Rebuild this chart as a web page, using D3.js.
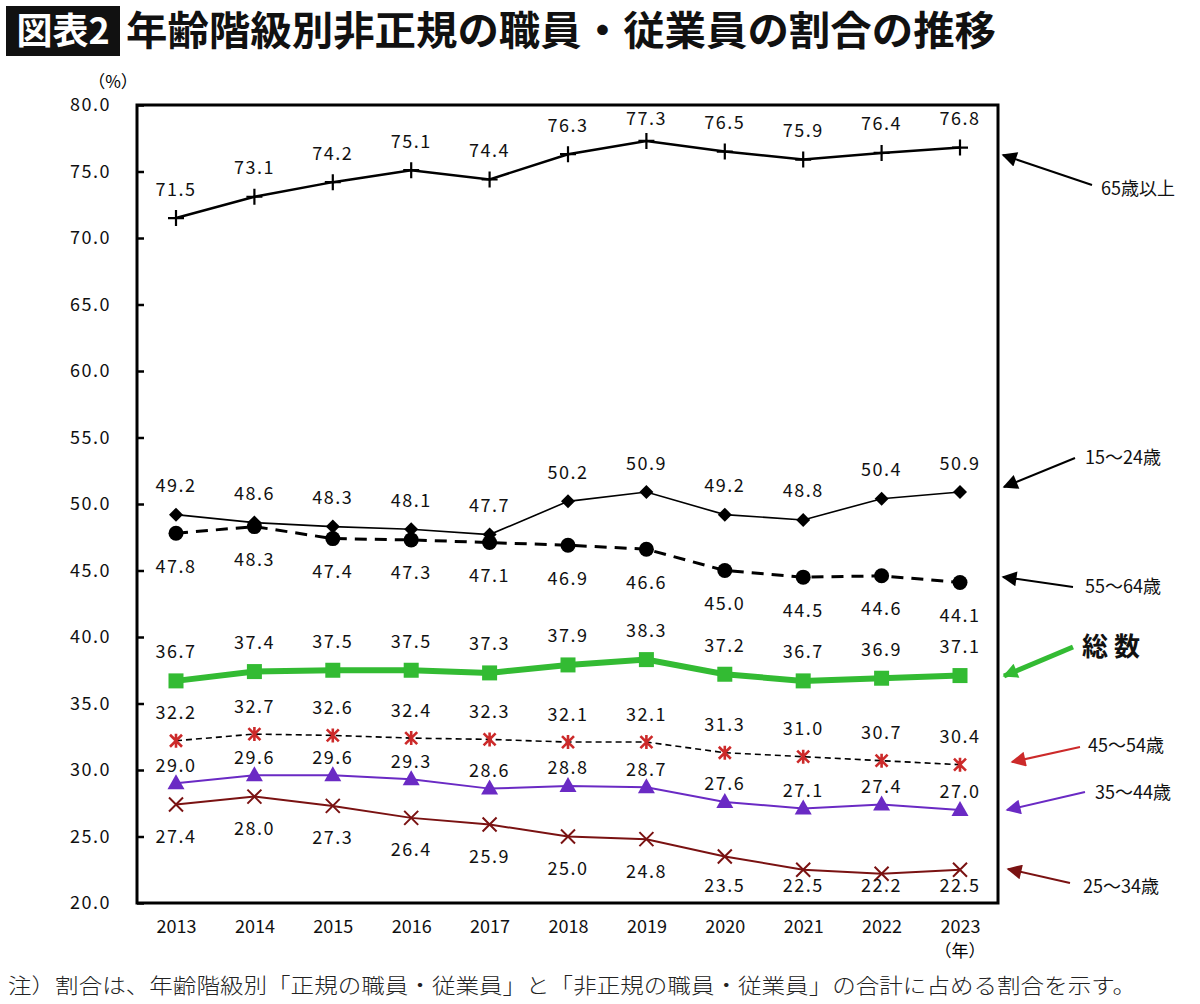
<!DOCTYPE html>
<html><head><meta charset="utf-8">
<script src="https://cdn.jsdelivr.net/npm/d3@7"></script>
<style>
html,body{margin:0;padding:0;background:#fff;}
svg{display:block;font-family:"Noto Sans CJK JP","Noto Sans",sans-serif;}
</style></head>
<body><svg id="c" width="1200" height="1004"></svg>
<script>
const years = ["2013","2014","2015","2016","2017","2018","2019","2020","2021","2022","2023"];
const yTicks = [20,25,30,35,40,45,50,55,60,65,70,75,80];
const s65 = [71.5,73.1,74.2,75.1,74.4,76.3,77.3,76.5,75.9,76.4,76.8];
const s15 = [49.2,48.6,48.3,48.1,47.7,50.2,50.9,49.2,48.8,50.4,50.9];
const s55 = [47.8,48.3,47.4,47.3,47.1,46.9,46.6,45.0,44.5,44.6,44.1];
const sTotal = [36.7,37.4,37.5,37.5,37.3,37.9,38.3,37.2,36.7,36.9,37.1];
const s45 = [32.2,32.7,32.6,32.4,32.3,32.1,32.1,31.3,31.0,30.7,30.4];
const s35 = [29.0,29.6,29.6,29.3,28.6,28.8,28.7,27.6,27.1,27.4,27.0];
const s25 = [27.4,28.0,27.3,26.4,25.9,25.0,24.8,23.5,22.5,22.2,22.5];
const seriesNames = ["65歳以上","15～24歳","55～64歳","総 数","45～54歳","35～44歳","25～34歳"];
const titleTag = "図表2";
const titleText = "年齢階級別非正規の職員・従業員の割合の推移";
const noteText = "注）割合は、年齢階級別「正規の職員・従業員」と「非正規の職員・従業員」の合計に占める割合を示す。";

const svg = d3.select("#c");
const L=137, R=998, T=105, B=903;
const x = d3.scalePoint().domain(years).range([176,960]);
const y = d3.scaleLinear().domain([20,80]).range([B,T]);

// title
svg.append("rect").attr("x",6).attr("y",6).attr("width",114).attr("height",50).attr("fill","#111");
svg.append("text").attr("x",63).attr("y",44).attr("text-anchor","middle").attr("fill","#fff")
  .attr("font-size",36).attr("font-weight",700).text(titleTag);
svg.append("text").attr("x",126).attr("y",45).attr("fill","#111")
  .attr("font-size",40).attr("font-weight",700).attr("textLength",870).attr("lengthAdjust","spacingAndGlyphs").text(titleText);

svg.append("text").attr("x",113).attr("y",88).attr("text-anchor","middle").attr("font-size",17).text("（%）");

// axes
const ya = svg.append("g").attr("transform",`translate(${L},0)`)
  .call(d3.axisLeft(y).tickValues(yTicks).tickSizeInner(-7).tickSizeOuter(0).tickPadding(26).tickFormat(d3.format(".1f")));
ya.select(".domain").remove();
ya.selectAll(".tick line").attr("stroke","#000").attr("stroke-width",2.5);
ya.selectAll("text").attr("font-size",18).attr("fill","#111").attr("letter-spacing",1.5).style("font-family","'Noto Sans CJK JP'");

const xa = svg.append("g").attr("transform",`translate(0,${B})`)
  .call(d3.axisBottom(x).tickSize(0).tickPadding(17));
xa.select(".domain").remove();
xa.selectAll("text").attr("font-size",18).attr("fill","#111").style("font-family","'Noto Sans CJK JP'");
svg.append("text").attr("x",x("2023")).attr("y",957).attr("text-anchor","middle").attr("font-size",17).text("（年）");

// frame
svg.append("rect").attr("x",L).attr("y",T).attr("width",R-L).attr("height",B-T)
  .attr("fill","none").attr("stroke","#000").attr("stroke-width",3);

function marker(g, type, cx, cy, color){
  if(type==="plus"){
    g.append("path").attr("d",`M${cx-8},${cy}H${cx+8}M${cx},${cy-8}V${cy+8}`).attr("stroke",color).attr("stroke-width",2.2);
  } else if(type==="diamond"){
    g.append("path").attr("d",`M${cx},${cy-7}L${cx+7},${cy}L${cx},${cy+7}L${cx-7},${cy}Z`).attr("fill",color);
  } else if(type==="circle"){
    g.append("circle").attr("cx",cx).attr("cy",cy).attr("r",7.5).attr("fill",color);
  } else if(type==="square"){
    g.append("rect").attr("x",cx-7.5).attr("y",cy-7.5).attr("width",15).attr("height",15).attr("fill",color);
  } else if(type==="triangle"){
    g.append("path").attr("d",`M${cx},${cy-9}L${cx+8.5},${cy+6}L${cx-8.5},${cy+6}Z`).attr("fill",color);
  } else if(type==="x"){
    g.append("path").attr("d",`M${cx-7},${cy-7}L${cx+7},${cy+7}M${cx+7},${cy-7}L${cx-7},${cy+7}`).attr("stroke",color).attr("stroke-width",2);
  } else if(type==="star"){
    g.append("path").attr("d",`M${cx-6},${cy-6}L${cx+6},${cy+6}M${cx+6},${cy-6}L${cx-6},${cy+6}M${cx},${cy-7}V${cy+7}`).attr("stroke",color).attr("stroke-width",2.6);
  }
}

const series = [
  {v:s65, color:"#000", w:2.5, dash:null, m:"plus", mc:"#000", off:-29},
  {v:s15, color:"#000", w:1.6, dash:null, m:"diamond", mc:"#000", off:-29},
  {v:s55, color:"#000", w:3, dash:"12,8", m:"circle", mc:"#000", off:33},
  {v:sTotal, color:"#33bb33", w:6, dash:null, m:"square", mc:"#33bb33", off:-29},
  {v:s45, color:"#000", w:1.6, dash:"6,4", m:"star", mc:"#cc2a2a", off:-28},
  {v:s35, color:"#6a2ac4", w:2, dash:null, m:"triangle", mc:"#6a2ac4", off:-18},
  {v:s25, color:"#7a1212", w:2, dash:null, m:"x", mc:"#7a1212", off:32}
];
const line = d3.line().x((d,i)=>x(years[i])).y(d=>y(d));
series.forEach(s=>{
  const g = svg.append("g");
  const p = g.append("path").attr("d",line(s.v)).attr("fill","none").attr("stroke",s.color).attr("stroke-width",s.w);
  if(s.dash) p.attr("stroke-dasharray",s.dash);
  s.v.forEach((d,i)=>marker(g,s.m,x(years[i]),y(d),s.mc));
  s.v.forEach((d,i)=>{
    let ly = y(d)+s.off;
    if(s.off>0) ly = Math.min(ly, 886);
    else ly = Math.max(ly, T+14);
    g.append("text").attr("x",x(years[i])).attr("y",ly).attr("dy","0.36em").attr("text-anchor","middle")
      .attr("font-size",18).attr("letter-spacing",1.5).attr("fill","#111").text(d.toFixed(1));
  });
});

// annotations
const defs = svg.append("defs");
function head(id,color){
  defs.append("marker").attr("id",id).attr("viewBox","0 0 10 10").attr("refX",9).attr("refY",5)
    .attr("markerUnits","userSpaceOnUse").attr("markerWidth",22).attr("markerHeight",15).attr("orient","auto")
    .append("path").attr("d","M0,0L10,5L0,10Z").attr("fill",color);
}
const ann = [
  {name:seriesNames[0], color:"#000", w:2, x1:1092,y1:185,x2:1003,y2:155, lx:1101, ly:189, fs:18, fw:400},
  {name:seriesNames[1], color:"#000", w:2, x1:1075,y1:458,x2:1004,y2:487, lx:1085, ly:458, fs:18, fw:400},
  {name:seriesNames[2], color:"#000", w:2, x1:1073,y1:587,x2:1003,y2:577, lx:1085, ly:587, fs:18, fw:400},
  {name:seriesNames[3], color:"#33bb33", w:5, x1:1073,y1:647,x2:1004,y2:676, lx:1082, ly:647, fs:26, fw:700},
  {name:seriesNames[4], color:"#cc2a2a", w:2, x1:1080,y1:747,x2:1012,y2:762, lx:1088, ly:746, fs:18, fw:400},
  {name:seriesNames[5], color:"#6a2ac4", w:2, x1:1085,y1:792,x2:1007,y2:810, lx:1095, ly:793, fs:18, fw:400},
  {name:seriesNames[6], color:"#7a1212", w:2, x1:1070,y1:883,x2:1008,y2:869, lx:1083, ly:887, fs:18, fw:400}
];
ann.forEach((a,i)=>{
  head("h"+i,a.color);
  svg.append("line").attr("x1",a.x1).attr("y1",a.y1).attr("x2",a.x2).attr("y2",a.y2)
    .attr("stroke",a.color).attr("stroke-width",a.w).attr("marker-end",`url(#h${i})`);
  svg.append("text").attr("x",a.lx).attr("y",a.ly).attr("dy","0.36em").attr("font-size",a.fs).attr("font-weight",a.fw)
    .attr("fill","#111").text(a.name);
});

svg.append("text").attr("x",8).attr("y",993).attr("font-size",21).attr("font-weight",300).attr("fill","#222")
  .attr("textLength",1128).attr("lengthAdjust","spacingAndGlyphs").text(noteText);
</script></body></html>
